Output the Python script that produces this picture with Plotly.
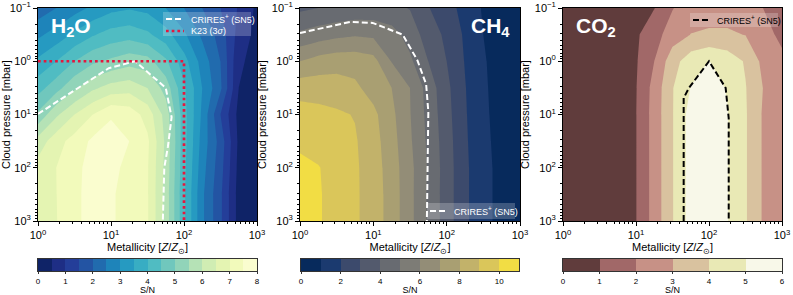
import math
import plotly.graph_objects as go

# ---------------- data ----------------
LOG_Z = [0, 0.25, 0.5, 0.75, 1.0, 1.25, 1.5, 1.75, 2.0, 2.25, 2.5, 2.75, 3.0]   # log10 metallicity
LOG_P = [-1, -0.5, 0, 0.5, 1.0, 1.5, 2.0, 2.5, 3.0]                           # log10 cloud pressure [mbar]

SN_H2O = [
    [2.2, 2.5, 2.8, 3.1, 3.35, 3.45, 3.35, 3.0, 2.5, 2.0, 1.5, 0.95, 0.4],
    [2.9, 3.2, 3.6, 3.95, 4.2, 4.3, 4.1, 3.7, 3.1, 2.4, 1.8, 0.8, 0.35],
    [3.6, 4.0, 4.5, 4.9, 5.1, 5.3, 5.2, 4.6, 3.7, 2.8, 2.0, 0.6, 0.3],
    [4.3, 4.8, 5.4, 5.9, 6.2, 6.3, 6.0, 5.3, 4.1, 3.0, 2.1, 0.5, 0.25],
    [5.1, 5.9, 6.5, 7.0, 7.45, 7.3, 6.8, 5.8, 4.2, 2.9, 1.5, 0.35, 0.2],
    [6.2, 6.8, 7.2, 7.6, 7.7, 7.5, 7.1, 5.9, 4.2, 2.8, 1.8, 0.4, 0.2],
    [6.7, 7.0, 7.35, 7.7, 7.6, 7.4, 7.05, 5.85, 4.15, 2.7, 1.7, 0.35, 0.15],
    [6.8, 6.99, 7.38, 7.7, 7.55, 7.35, 7.05, 5.8, 4.1, 2.6, 1.6, 0.3, 0.1],
    [6.85, 6.98, 7.38, 7.7, 7.55, 7.35, 7.05, 5.8, 4.1, 2.6, 1.6, 0.3, 0.1],
]
SN_CH4 = [
    [3.8, 4.0, 4.15, 4.3, 4.35, 4.25, 3.95, 3.05, 2.4, 1.65, 0.9, 0.45, 0.2],
    [5.2, 5.5, 5.75, 5.9, 5.8, 5.4, 4.6, 3.5, 2.8, 1.85, 1.0, 0.5, 0.22],
    [7.0, 7.4, 7.6, 7.6, 7.35, 5.95, 5.2, 4.0, 3.0, 1.95, 1.1, 0.55, 0.25],
    [8.6, 8.55, 8.45, 8.2, 7.6, 7.0, 6.0, 4.6, 3.25, 2.05, 1.15, 0.58, 0.27],
    [9.4, 9.3, 9.15, 8.95, 8.25, 7.25, 6.05, 4.7, 3.35, 2.1, 1.2, 0.6, 0.28],
    [9.75, 9.6, 9.4, 9.1, 8.4, 7.4, 6.15, 4.8, 3.45, 2.15, 1.25, 0.65, 0.3],
    [10.3, 10.05, 9.6, 9.15, 8.5, 7.5, 6.3, 4.9, 3.5, 2.2, 1.3, 0.7, 0.3],
    [10.5, 10.1, 9.6, 9.15, 8.55, 7.55, 6.3, 4.85, 3.5, 2.2, 1.3, 0.7, 0.3],
    [10.5, 10.1, 9.6, 9.15, 8.55, 7.55, 6.3, 4.85, 3.5, 2.2, 1.3, 0.7, 0.3],
]
SN_CO2 = [
    [0.15, 0.25, 0.35, 0.5, 0.7, 0.97, 1.95, 2.55, 2.7, 2.7, 2.45, 1.98, 1.5],
    [0.2, 0.3, 0.4, 0.6, 0.85, 1.6, 2.5, 3.02, 3.1, 3.1, 2.98, 2.3, 1.8],
    [0.25, 0.35, 0.45, 0.65, 0.9, 2.0, 3.6, 4.55, 5.02, 4.6, 3.9, 2.7, 2.2],
    [0.3, 0.4, 0.5, 0.7, 0.95, 2.35, 3.95, 5.03, 5.35, 4.95, 4.05, 2.95, 2.3],
    [0.3, 0.4, 0.5, 0.7, 0.97, 2.4, 3.95, 5.4, 5.6, 5.05, 4.1, 2.85, 2.4],
    [0.3, 0.4, 0.5, 0.7, 0.97, 2.4, 3.95, 5.4, 5.6, 5.05, 4.1, 2.85, 2.4],
    [0.3, 0.4, 0.5, 0.7, 0.97, 2.4, 3.95, 5.4, 5.6, 5.05, 4.1, 2.85, 2.4],
    [0.3, 0.4, 0.5, 0.7, 0.97, 2.4, 3.95, 5.4, 5.6, 5.05, 4.1, 2.85, 2.4],
    [0.3, 0.4, 0.5, 0.7, 0.97, 2.4, 3.95, 5.4, 5.6, 5.05, 4.1, 2.85, 2.4],
]

# CRIRES+ S/N=5 contours (log10 Z, log10 P)
CRIRES_H2O_LZ = [0, 0.41, 0.97, 1.33, 1.75, 1.83, 1.78, 1.73, 1.71]
CRIRES_H2O_LP = [0.99, 0.63, 0.13, 0.0, 0.5, 1.05, 1.6, 2.0, 3.0]
CRIRES_CH4_LZ = [0, 0.69, 0.99, 1.40, 1.60, 1.72, 1.75, 1.73]
CRIRES_CH4_LP = [-0.53, -0.74, -0.72, -0.5, -0.02, 0.43, 0.95, 3.0]
CRIRES_CO2_LZ = [1.653, 1.653, 1.726, 2.0, 2.228, 2.27, 2.27]
CRIRES_CO2_LP = [3.0, 0.69, 0.5, 0.0, 0.5, 1.07, 3.0]
# K23 (3 sigma) limit
K23_LZ = [0, 2, 2]
K23_LP = [0, 0, 3]

LEVELS_H2O = dict(start=0.5, end=7.5, size=0.5, vmax=8)
LEVELS_CH4 = dict(start=1, end=10, size=1, vmax=11)
LEVELS_CO2 = dict(start=1, end=5, size=1, vmax=6)

TICKS_DEC = [-1, 0, 1, 2, 3]
TICKTEXT_X = ["10<sup>0</sup>", "10<sup>1</sup>", "10<sup>2</sup>", "10<sup>3</sup>"]
TICKTEXT_Y = ["10<sup>\u22121</sup>", "10<sup>0</sup>", "10<sup>1</sup>", "10<sup>2</sup>", "10<sup>3</sup>"]
CB_TICKS_H2O = [0, 1, 2, 3, 4, 5, 6, 7, 8]
CB_TICKS_CH4 = [0, 2, 4, 6, 8, 10]
CB_TICKS_CO2 = [0, 1, 2, 3, 4, 5, 6]

CRIRES_LABEL = 'CRIRES<sup>+</sup> (SN5)'
K23_LABEL = 'K23 (3<i>\u03c3</i>)'

# ---------------- colour maps ----------------
def hex2rgb(h):
    h = h.lstrip('#')
    return [int(h[i:i + 2], 16) for i in (0, 2, 4)]

def interp_list(stops, t):
    n = len(stops) - 1
    t = min(max(t, 0), 1) * n
    i = min(int(t), n - 1)
    f = t - i
    a, b = hex2rgb(stops[i]), hex2rgb(stops[i + 1])
    return [a[k] + (b[k] - a[k]) * f for k in range(3)]

YLGNBU = ["#ffffd9", "#edf8b1", "#c7e9b4", "#7fcdbb", "#41b6c4",
          "#1d91c0", "#225ea8", "#253494", "#081d58"]
CIVIDIS = ['#00224e', '#123570', '#3b496c', '#575d6d', '#707173',
           '#8a8678', '#a59c74', '#c3b369', '#e1cc55', '#fee838']

def ylgnbu_r(t):
    return interp_list(YLGNBU, 1 - t)

def cividis(t):
    return interp_list(CIVIDIS, t)

def pink(t):
    r_hot = 0.0416 + (1 - 0.0416) * min(t / 0.365079, 1)
    g_hot = min(max((t - 0.365079) / (0.746032 - 0.365079), 0), 1)
    b_hot = min(max((t - 0.746032) / (1 - 0.746032), 0), 1)
    return [255 * math.sqrt((2 * t + c) / 3) for c in (r_hot, g_hot, b_hot)]

def band_colors(cmap, nb):
    out = []
    for i in range(nb):
        r, g, b = cmap((i + 0.5) / nb)
        out.append('rgb(%d,%d,%d)' % (round(r), round(g), round(b)))
    return out

def stepped_scale(cols):
    n = len(cols) - 1
    return [[i / n, c] for i, c in enumerate(cols)]

# ---------------- layout geometry ----------------
W, H = 793, 295
ML, MR, MT, MB = 38, 11, 8, 24
PW, PH = W - ML - MR, H - MT - MB

def fx(px):
    return (px - ML) / PW

def fy(py):
    return (H - MB - py) / PH

PANELS = [(38, 257), (300, 520), (563, 782)]
CBARS = [(38, 257), (301, 519), (563, 782)]
MAIN_Y = [fy(221), fy(8)]
CB_Y = [fy(271), fy(259)]

FONT = "Liberation Sans, Arial, sans-serif"
MINOR = [d + math.log10(k) for d in range(-1, 3) for k in range(2, 10)]
MINOR_X = [v for v in MINOR if 0 < v < 3]
MINOR_Y = MINOR

fig = go.Figure()

specs = [
    ("H2O", SN_H2O, LEVELS_H2O, ylgnbu_r, CB_TICKS_H2O),
    ("CH4", SN_CH4, LEVELS_CH4, cividis, CB_TICKS_CH4),
    ("CO2", SN_CO2, LEVELS_CO2, pink, CB_TICKS_CO2),
]

layout = {}
for k, (name, z, lev, cmap, cbt) in enumerate(specs):
    ax = '' if k == 0 else str(k + 1)
    cbx = str(k + 4)
    nb = int(round(lev['vmax'] / lev['size']))
    cols = band_colors(cmap, nb)
    cs = stepped_scale(cols)
    fig.add_trace(go.Contour(
        x=LOG_Z, y=LOG_P, z=z, xaxis='x' + ax, yaxis='y' + ax,
        autocontour=False,
        contours=dict(start=lev['start'], end=lev['end'], size=lev['size'],
                      coloring='fill', showlines=False),
        colorscale=cs, showscale=False, line=dict(width=0, smoothing=0),
        hoverinfo='skip', showlegend=False, name=name))
    edges = [i * lev['size'] for i in range(nb + 1)]
    fig.add_trace(go.Heatmap(
        x=edges, y=[0, 1], z=[list(range(nb))], zmin=0, zmax=nb - 1,
        colorscale=cs, showscale=False, xaxis='x' + cbx, yaxis='y' + cbx,
        hoverinfo='skip', showlegend=False))

    x0, x1 = PANELS[k]
    layout['xaxis' + ax] = dict(
        domain=[fx(x0), fx(x1)], range=[0, 3], anchor='y' + ax, automargin=False,
        tickvals=TICKS_DEC[1:], ticktext=TICKTEXT_X, ticks='outside', ticklen=4,
        tickwidth=0.8, tickcolor='black', showline=True, mirror=True,
        linecolor='black', linewidth=1, showgrid=False, zeroline=False,
        tickfont=dict(size=11, color='black', family=FONT),
        minor=dict(tickvals=MINOR_X, ticks='outside', ticklen=2, tickwidth=0.6,
                   tickcolor='black', showgrid=False),
        title=dict(text='Metallicity [<i>Z</i>/<i>Z</i><sub>\u2299</sub>]',
                   font=dict(size=11, color='black', family=FONT), standoff=3))
    layout['yaxis' + ax] = dict(
        domain=MAIN_Y, range=[3, -1], anchor='x' + ax, automargin=False,
        tickvals=TICKS_DEC, ticktext=TICKTEXT_Y, ticks='outside', ticklen=4,
        tickwidth=0.8, tickcolor='black', showline=True, mirror=True,
        linecolor='black', linewidth=1, showgrid=False, zeroline=False,
        tickfont=dict(size=11, color='black', family=FONT),
        minor=dict(tickvals=MINOR_Y, ticks='outside', ticklen=2, tickwidth=0.6,
                   tickcolor='black', showgrid=False),
        title=dict(text='Cloud pressure [mbar]',
                   font=dict(size=11, color='black', family=FONT), standoff=2))
    c0, c1 = CBARS[k]
    layout['xaxis' + cbx] = dict(
        domain=[fx(c0), fx(c1)], range=[0, lev['vmax']], anchor='y' + cbx,
        automargin=False,
        tickvals=cbt, ticks='outside', ticklen=2.5, tickwidth=0.6, tickcolor='#333',
        showline=True, mirror=True, linecolor='#333', linewidth=0.8,
        showgrid=False, zeroline=False,
        tickfont=dict(size=8, color='black', family=FONT),
        title=dict(text='S/N', font=dict(size=9, color='black', family=FONT), standoff=1))
    layout['yaxis' + cbx] = dict(
        domain=CB_Y, range=[0, 1], anchor='x' + cbx, showticklabels=False,
        automargin=False,
        ticks='', showline=True, mirror=True, linecolor='#333', linewidth=0.8,
        showgrid=False, zeroline=False)

# lines
fig.add_trace(go.Scatter(x=CRIRES_H2O_LZ, y=CRIRES_H2O_LP, mode='lines',
                         line=dict(color='white', width=2, dash='6px,3px'),
                         name=CRIRES_LABEL, showlegend=False,
                         xaxis='x', yaxis='y', hoverinfo='skip'))
fig.add_trace(go.Scatter(x=K23_LZ, y=K23_LP, mode='lines',
                         line=dict(color='#e4173e', width=2.7, dash='2.7px,3px'),
                         name=K23_LABEL, showlegend=False,
                         xaxis='x', yaxis='y', hoverinfo='skip'))
fig.add_trace(go.Scatter(x=CRIRES_CH4_LZ, y=CRIRES_CH4_LP, mode='lines',
                         line=dict(color='white', width=2, dash='6px,3px'),
                         name=CRIRES_LABEL, showlegend=False,
                         xaxis='x2', yaxis='y2', hoverinfo='skip'))
fig.add_trace(go.Scatter(x=CRIRES_CO2_LZ, y=CRIRES_CO2_LP, mode='lines',
                         line=dict(color='black', width=2, dash='6px,3px'),
                         name=CRIRES_LABEL, showlegend=False,
                         xaxis='x3', yaxis='y3', hoverinfo='skip'))

# ---------------- legends (drawn as boxes + samples + labels) ----------------
shapes, annotations = [], []

def legend_box(x0, x1, y0, y1, fill):
    shapes.append(dict(type='rect', xref='paper', yref='paper',
                       x0=fx(x0), x1=fx(x1), y0=fy(y1), y1=fy(y0),
                       fillcolor=fill, line=dict(width=0), layer='above'))

def legend_item(xs0, xs1, xt, yc, color, width, dash, label, tcolor):
    shapes.append(dict(type='line', xref='paper', yref='paper',
                       x0=fx(xs0), x1=fx(xs1), y0=fy(yc), y1=fy(yc),
                       line=dict(color=color, width=width, dash=dash), layer='above'))
    annotations.append(dict(text=label, xref='paper', yref='paper', x=fx(xt), y=fy(yc),
                            xanchor='left', yanchor='middle', showarrow=False,
                            font=dict(size=9, color=tcolor, family=FONT)))

legend_box(163, 251, 12, 36, 'rgba(255,255,255,0.22)')
legend_item(166, 184, 189, 19, 'white', 2, '6px,3px', CRIRES_LABEL, 'white')
legend_item(166, 184, 189, 31, '#e4173e', 2.7, '2.7px,3px', K23_LABEL, 'white')
legend_box(427, 515, 203, 219, 'rgba(255,255,255,0.22)')
legend_item(430, 447, 452, 211, 'white', 2, '6px,3px', CRIRES_LABEL, 'white')
legend_box(690, 778, 13, 27, 'rgba(255,255,255,0.22)')
legend_item(693, 710, 715, 20, 'black', 2, '6px,3px', CRIRES_LABEL, 'black')

TITLES = [("<b>H<sub>2</sub>O</b>", 'x', 'y', 0.05, 'left'),
          ("<b>CH<sub>4</sub></b>", 'x2', 'y2', 0.965, 'right'),
          ("<b>CO<sub>2</sub></b>", 'x3', 'y3', 0.05, 'left')]
for txt, xr, yr, xx, xa in TITLES:
    annotations.append(dict(text=txt, xref=xr + ' domain', yref=yr + ' domain',
                            x=xx, y=0.98, xanchor=xa, yanchor='top', showarrow=False,
                            font=dict(size=21, color='white', family=FONT)))

fig.update_layout(width=W, height=H,
                  margin=dict(l=ML, r=MR, t=MT, b=MB, autoexpand=False),
                  paper_bgcolor='white', plot_bgcolor='white', showlegend=False,
                  font=dict(family=FONT, color='black'),
                  shapes=shapes, annotations=annotations, **layout)

fig.write_html("out.html", config={'displayModeBar': False},
               post_script="document.body.style.margin='0';"
                           "document.body.style.overflow='hidden';")
